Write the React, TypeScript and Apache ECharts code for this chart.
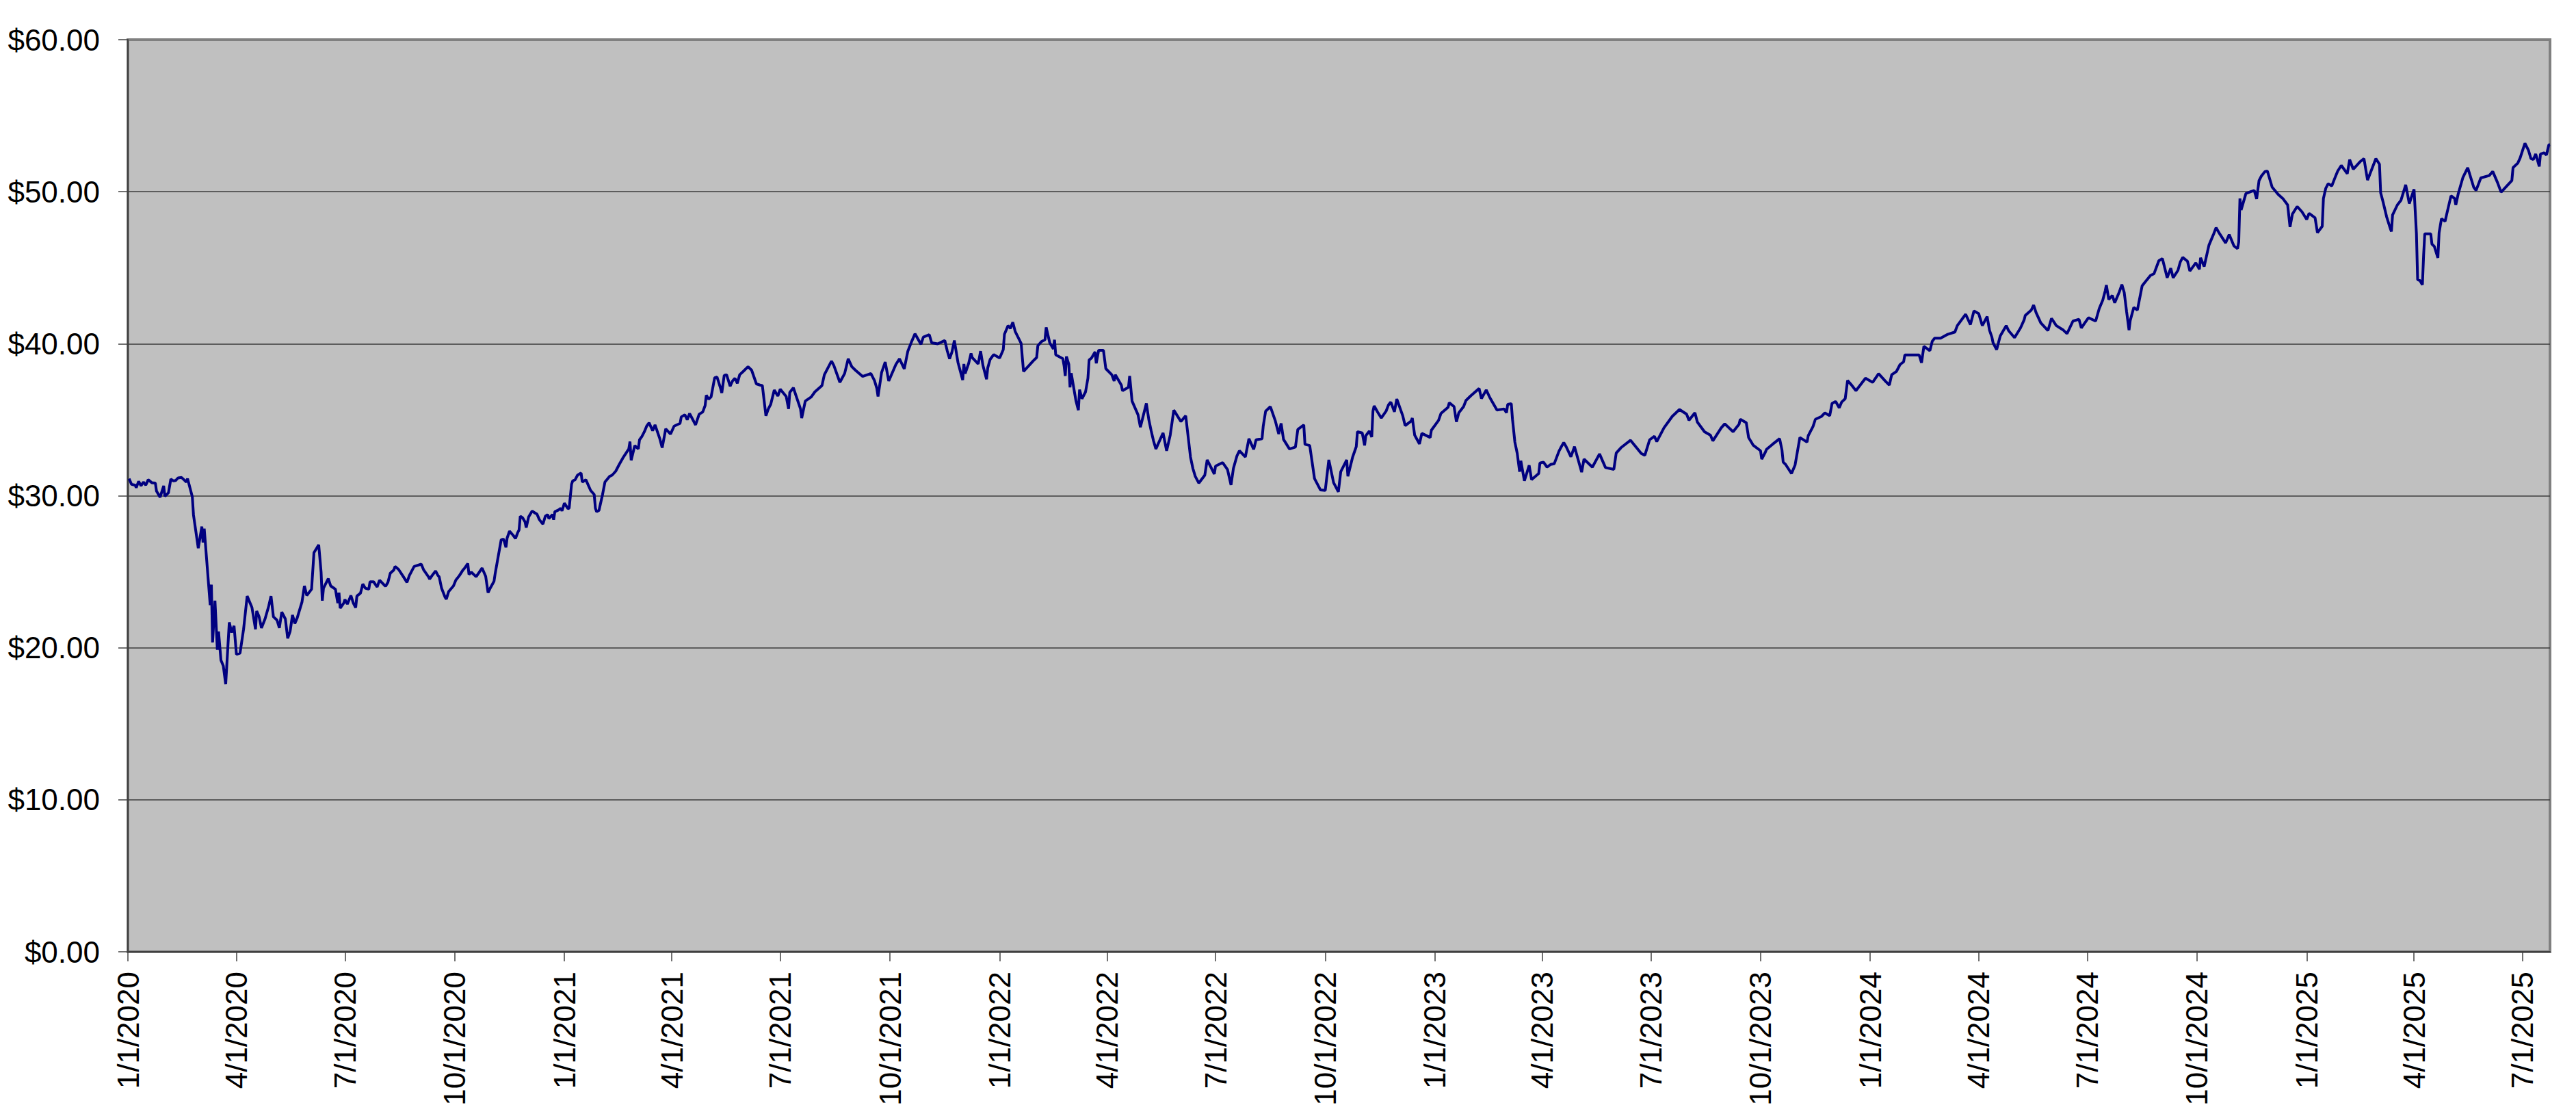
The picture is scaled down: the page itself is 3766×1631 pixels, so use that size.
import React, { useEffect, useRef } from "react";
import * as echarts from "echarts";

// X-axis tick labels (quarter starts)
const quarterLabels = [
  "1/1/2020", "4/1/2020", "7/1/2020", "10/1/2020",
  "1/1/2021", "4/1/2021", "7/1/2021", "10/1/2021",
  "1/1/2022", "4/1/2022", "7/1/2022", "10/1/2022",
  "1/1/2023", "4/1/2023", "7/1/2023", "10/1/2023",
  "1/1/2024", "4/1/2024", "7/1/2024", "10/1/2024",
  "1/1/2025", "4/1/2025", "7/1/2025",
];
const axisStart = "1/1/2020";
const axisEnd = "7/24/2025";
const yMin = 0;
const yMax = 60;
const yStep = 10;

// Price series, split by year (MM-DD, closing price)
const days2020 = ["01-02","01-04","01-07","01-08","01-10","01-12","01-14","01-16","01-18","01-21","01-24","01-25","01-28","01-31","02-01","02-04","02-06","02-08","02-10","02-12","02-15","02-17","02-19","02-20","02-24","02-25","02-29","03-03","03-04","03-05","03-10","03-11","03-12","03-14","03-16","03-17","03-19","03-21","03-23","03-26","03-28","03-30","04-01","04-04","04-07","04-10","04-14","04-17","04-18","04-20","04-22","04-25","04-28","04-30","05-02","05-05","05-07","05-09","05-12","05-14","05-16","05-18","05-20","05-22","05-26","05-28","05-30","06-03","06-05","06-09","06-11","06-12","06-13","06-17","06-19","06-23","06-25","06-26","06-27","06-30","07-01","07-03","07-06","07-08","07-10","07-11","07-14","07-16","07-18","07-21","07-22","07-25","07-28","07-30","08-04","08-06","08-08","08-11","08-12","08-15","08-19","08-22","08-24","08-28","09-03","09-05","09-09","09-10","09-13","09-15","09-17","09-18","09-20","09-23","09-24","09-26","09-30","10-02","10-05","10-08","10-09","10-12","10-13","10-15","10-19","10-24","10-27","10-29","10-31","11-03","11-04","11-09","11-11","11-13","11-14","11-16","11-19","11-21","11-23","11-24","11-25","11-27","11-29","11-30","12-02","12-05","12-07","12-09","12-11","12-14","12-16","12-18","12-19","12-22","12-23","12-24","12-27","12-29","12-30"];
const prices2020 = [31.13,30.75,30.7,30.53,30.95,30.65,30.9,30.7,31.05,30.86,30.83,30.3,29.9,30.65,29.96,30.2,31.1,30.98,31.0,31.17,31.2,31.05,30.9,31.13,29.93,28.73,26.55,27.97,26.92,27.83,22.8,24.15,20.35,23.1,19.87,21.07,19.19,18.8,17.6,21.67,21.0,21.44,19.57,19.64,21.22,23.4,22.65,21.22,22.42,22.04,21.3,21.9,22.72,23.4,22.04,21.82,21.3,22.35,21.9,20.62,21.07,22.15,21.6,21.97,23.02,24.07,23.44,23.85,26.25,26.77,24.97,23.1,23.92,24.55,24.07,23.85,22.94,23.62,22.6,22.94,23.17,22.87,23.44,22.94,22.64,23.4,23.59,24.19,23.92,23.85,24.34,24.34,24.0,24.45,24.04,24.3,24.9,25.12,25.35,25.15,24.67,24.3,24.75,25.35,25.5,25.12,24.67,24.52,24.85,25.05,24.75,24.67,23.92,23.32,23.2,23.7,24.07,24.45,24.75,25.12,25.2,25.54,24.82,24.97,24.67,25.24,24.7,23.62,23.95,24.37,24.9,27.1,27.15,26.6,27.22,27.67,27.4,27.19,27.6,27.75,28.65,28.55,28.28,27.9,28.6,29.0,28.88,28.8,28.43,28.13,28.65,28.76,28.5,28.76,28.42,28.95,29.06,29.18,29.0];

const days2021 = ["01-01","01-04","01-05","01-07","01-08","01-10","01-12","01-15","01-16","01-19","01-23","01-26","01-27","01-28","01-30","02-02","02-04","02-08","02-10","02-13","02-16","02-19","02-24","02-25","02-26","03-01","03-04","03-05","03-07","03-09","03-11","03-13","03-16","03-18","03-22","03-24","03-27","03-31","04-03","04-08","04-09","04-12","04-14","04-16","04-21","04-24","04-27","04-29","04-30","05-02","05-04","05-07","05-09","05-12","05-13","05-15","05-17","05-20","05-22","05-24","05-26","05-28","05-31","06-04","06-07","06-11","06-14","06-16","06-19","06-21","06-23","06-26","06-29","07-01","07-06","07-08","07-09","07-12","07-18","07-19","07-22","07-27","07-30","08-05","08-07","08-13","08-15","08-20","08-24","08-27","08-30","09-02","09-08","09-15","09-18","09-20","09-21","09-24","09-27","09-30","10-06","10-09","10-13","10-16","10-19","10-22","10-27","10-29","11-03","11-05","11-10","11-16","11-18","11-20","11-22","11-24","11-27","12-01","12-02","12-03","12-06","12-08","12-09","12-14","12-16","12-18","12-21","12-22","12-24","12-27"];
const prices2021 = [29.51,29.15,29.18,30.75,30.98,31.05,31.35,31.5,30.9,31.05,30.35,30.08,29.18,28.95,29.03,30.08,30.9,31.28,31.35,31.61,32.06,32.48,33.08,33.56,32.33,33.3,33.08,33.68,33.9,34.2,34.58,34.8,34.28,34.66,33.75,33.16,34.4,34.06,34.58,34.76,35.18,35.33,35.0,35.41,34.66,35.36,35.51,35.93,36.61,36.35,36.5,37.76,37.81,37.06,36.76,37.91,37.96,37.21,37.55,37.73,37.4,37.96,38.18,38.49,38.26,37.36,37.28,37.25,35.26,35.71,36.01,36.95,36.56,37.01,36.53,35.71,36.8,37.1,35.71,35.11,36.23,36.5,36.83,37.25,37.96,38.86,38.56,37.46,38.04,39.01,38.49,38.26,37.85,38.04,37.58,37.06,36.53,38.11,38.79,37.55,38.64,39.01,38.34,39.51,40.11,40.66,39.96,40.44,40.59,40.06,39.99,40.21,39.54,39.01,39.46,40.21,38.78,37.61,38.67,38.03,38.71,39.36,39.09,38.67,39.51,38.56,37.66,38.41,38.97,39.28];

const days2022 = ["01-01","01-04","01-05","01-08","01-10","01-12","01-14","01-19","01-20","01-21","01-26","01-29","02-01","02-02","02-05","02-08","02-09","02-12","02-15","02-16","02-17","02-23","02-24","02-25","02-26","02-28","03-01","03-02","03-06","03-08","03-09","03-11","03-14","03-16","03-17","03-19","03-22","03-23","03-25","03-29","03-31","04-05","04-07","04-08","04-13","04-14","04-19","04-20","04-22","04-27","04-29","05-04","05-06","05-08","05-10","05-12","05-18","05-21","05-24","05-27","06-02","06-06","06-10","06-12","06-14","06-17","06-22","06-24","06-30","07-01","07-07","07-11","07-14","07-16","07-19","07-21","07-26","07-29","08-02","08-04","08-09","08-10","08-12","08-16","08-20","08-23","08-25","08-27","09-01","09-06","09-08","09-13","09-14","09-18","09-22","09-27","10-01","10-04","10-08","10-12","10-14","10-19","10-20","10-24","10-27","10-28","11-01","11-03","11-04","11-07","11-09","11-10","11-11","11-14","11-17","11-21","11-23","11-25","11-28","11-30","12-05","12-07","12-12","12-13","12-15","12-19","12-21","12-28","12-29"];
const prices2022 = [39.06,39.61,40.62,41.19,41.01,41.41,40.81,40.02,39.09,38.18,38.6,38.86,39.09,39.87,40.14,40.26,41.07,40.06,39.66,40.26,39.27,39.01,38.56,37.88,39.16,38.64,37.13,38.06,36.23,35.63,36.98,36.38,36.83,37.73,38.93,39.06,39.46,38.71,39.57,39.57,38.36,37.96,37.55,37.96,37.28,36.91,37.13,37.88,36.23,35.33,34.51,36.08,35.03,34.28,33.61,33.08,34.13,32.96,33.98,35.63,34.88,35.26,32.55,31.8,31.28,30.83,31.35,32.36,31.43,31.95,32.18,31.73,30.71,31.8,32.63,32.96,32.55,33.75,33.05,33.68,33.75,34.58,35.56,35.86,34.96,34.06,34.76,33.71,33.08,33.2,34.36,34.66,33.38,33.3,31.13,30.38,30.35,32.36,30.86,30.26,31.58,32.36,31.28,32.55,33.23,34.21,34.13,33.31,33.95,34.25,33.86,35.56,35.91,35.49,35.11,35.56,35.97,36.16,35.52,36.36,35.26,34.61,34.91,35.11,33.98,33.41,34.1,33.83,34.31];

const days2023 = ["01-04","01-06","01-12","01-13","01-17","01-19","01-21","01-25","01-27","01-31","02-07","02-09","02-13","02-16","02-22","02-28","03-02","03-03","03-06","03-07","03-09","03-11","03-13","03-14","03-17","03-21","03-23","03-29","03-30","04-02","04-05","04-08","04-11","04-15","04-17","04-19","04-21","04-25","04-28","05-04","05-06","05-13","05-19","05-24","05-31","06-02","06-06","06-14","06-23","06-26","06-30","07-04","07-06","07-12","07-19","07-25","07-31","08-02","08-07","08-09","08-15","08-20","08-22","08-29","09-01","09-08","09-13","09-14","09-19","09-21","09-25","10-01","10-02","10-05","10-06","10-11","10-17","10-19","10-20","10-22","10-27","10-30","11-03","11-09","11-10","11-14","11-16","11-21","11-24","11-28","11-30","12-03","12-06","12-08","12-11","12-13","12-16","12-20","12-28"];
const prices2023 = [34.96,35.41,35.82,36.12,35.86,34.86,35.46,35.86,36.27,36.57,37.06,36.39,36.96,36.46,35.64,35.71,35.46,36.01,36.06,35.04,33.53,32.78,31.58,32.3,30.98,32.0,31.06,31.46,32.15,32.21,31.88,32.06,32.1,32.93,33.23,33.5,33.23,32.56,33.23,31.55,32.41,31.88,32.75,31.85,31.73,32.81,33.16,33.65,32.78,32.66,33.68,33.91,33.56,34.46,35.22,35.67,35.37,34.96,35.46,34.85,34.21,33.98,33.61,34.46,34.73,34.21,34.7,35.03,34.81,33.83,33.31,32.96,32.41,32.86,33.05,33.38,33.75,33.0,32.21,32.06,31.46,32.03,33.83,33.53,33.95,34.55,35.03,35.21,35.45,35.26,36.08,36.2,35.78,36.16,36.38,37.58,37.31,36.91,37.73];

const days2024 = ["01-03","01-08","01-14","01-17","01-19","01-23","01-26","01-29","01-30","02-11","02-13","02-15","02-20","02-22","02-24","02-29","03-06","03-12","03-14","03-21","03-25","03-28","04-01","04-04","04-08","04-10","04-12","04-13","04-16","04-19","04-24","04-26","05-01","05-06","05-09","05-10","05-15","05-17","05-19","05-23","05-29","06-01","06-05","06-11","06-14","06-19","06-24","06-26","07-02","07-08","07-11","07-14","07-16","07-17","07-19","07-22","07-24","07-28","07-30","08-01","08-03","08-05","08-06","08-09","08-12","08-16","08-18","08-23","08-26","08-30","09-02","09-06","09-09","09-11","09-15","09-17","09-19","09-23","09-25","09-30","10-03","10-04","10-07","10-11","10-15","10-17","10-20","10-25","10-28","11-01","11-04","11-05","11-06","11-07","11-11","11-15","11-18","11-20","11-22","11-24","11-27","11-29","12-03","12-08","12-12","12-16","12-18","12-20","12-24","12-28"];
const prices2024 = [37.46,38.03,37.51,37.28,37.96,38.18,38.63,38.81,39.26,39.26,38.75,39.83,39.54,40.16,40.36,40.36,40.62,40.77,41.19,41.94,41.26,42.16,41.97,41.19,41.79,40.89,40.44,40.06,39.61,40.51,41.19,40.86,40.4,41.04,41.56,41.86,42.21,42.54,42.06,41.37,40.86,41.67,41.19,40.89,40.66,41.49,41.61,41.04,41.71,41.49,42.31,42.87,43.47,43.86,42.91,43.17,42.69,43.44,43.89,43.36,42.09,40.89,41.52,42.39,42.21,43.81,44.01,44.49,44.61,45.46,45.6,44.34,44.97,44.34,44.82,45.38,45.68,45.43,44.78,45.32,44.9,45.65,45.08,46.48,47.23,47.63,47.23,46.63,47.18,46.43,46.25,46.7,49.55,48.8,49.88,50.0,50.08,49.52,50.73,51.03,51.33,51.36,50.3,49.83,49.55,49.13,47.68,48.53,49.03,48.68];

const days2025 = ["01-01","01-03","01-08","01-10","01-14","01-15","01-17","01-19","01-22","01-25","01-27","01-30","02-04","02-06","02-09","02-15","02-18","02-21","02-28","03-03","03-04","03-06","03-09","03-12","03-13","03-14","03-18","03-21","03-25","03-28","04-01","04-03","04-04","04-06","04-08","04-09","04-10","04-15","04-16","04-18","04-21","04-22","04-24","04-27","04-29","05-02","05-05","05-06","05-08","05-12","05-16","05-21","05-23","05-27","06-03","06-06","06-10","06-13","06-22","06-23","06-27","06-29","07-01","07-03","07-06","07-08","07-10","07-12","07-15","07-16","07-19","07-21","07-23","07-24"];
const prices2025 = [48.17,48.58,48.28,47.3,47.72,49.55,50.23,50.53,50.38,50.98,51.36,51.73,51.18,52.11,51.48,51.99,52.18,50.76,52.18,51.81,49.93,49.33,48.35,47.6,47.38,48.47,49.13,49.43,50.45,49.22,50.16,47.23,44.22,44.15,43.88,45.8,47.23,47.23,46.55,46.4,45.65,47.3,48.23,48.05,48.73,49.73,49.55,49.13,49.85,50.94,51.58,50.3,50.08,50.91,51.06,51.33,50.6,49.97,50.73,51.58,51.88,52.23,52.71,53.19,52.71,52.18,52.11,52.48,51.66,52.48,52.56,52.41,53.08,53.1];

const yearBlocks: [number, string[], number[]][] = [
  [2020, days2020, prices2020],
  [2021, days2021, prices2021],
  [2022, days2022, prices2022],
  [2023, days2023, prices2023],
  [2024, days2024, prices2024],
  [2025, days2025, prices2025],
];

function ts(y: number, m: number, d: number): number {
  return Date.UTC(y, m - 1, d);
}
function parseUS(s: string): number {
  const [m, d, y] = s.split("/").map(Number);
  return ts(y, m, d);
}
function fmtUS(v: number): string {
  const d = new Date(v);
  return `${d.getUTCMonth() + 1}/${d.getUTCDate()}/${d.getUTCFullYear()}`;
}

function buildData(): [number, number][] {
  const out: [number, number][] = [];
  for (const [y, ds, ps] of yearBlocks) {
    ds.forEach((md, i) => {
      const [m, d] = md.split("-").map(Number);
      out.push([ts(y, m, d), ps[i]]);
    });
  }
  return out;
}

const FONT = "'Liberation Sans', Arial, sans-serif";

export default function App() {
  const ref = useRef<HTMLDivElement>(null);
  useEffect(() => {
    if (!ref.current) return;
    const chart = echarts.init(ref.current, undefined, { renderer: "svg" });
    const tickValues = quarterLabels.map(parseUS);
    chart.setOption({
      animation: false,
      backgroundColor: "#ffffff",
      grid: {
        left: 187,
        right: 38,
        top: 58,
        bottom: 240,
        containLabel: false,
        outerBoundsMode: "none",
        show: true,
        backgroundColor: "#c0c0c0",
        borderColor: "#808080",
        borderWidth: 4,
      },
      xAxis: {
        type: "value",
        min: parseUS(axisStart),
        max: parseUS(axisEnd),
        scale: true,
        axisLine: { show: true, lineStyle: { color: "#404040", width: 2 } },
        axisTick: {
          show: true,
          inside: false,
          length: 14,
          customValues: tickValues,
          lineStyle: { color: "#404040", width: 1.5 },
        },
        axisLabel: {
          show: true,
          customValues: tickValues,
          rotate: 90,
          margin: 29,
          fontSize: 44,
          fontFamily: FONT,
          color: "#000000",
          hideOverlap: false,
          formatter: (v: number) => fmtUS(v),
        },
        splitLine: { show: false },
      },
      yAxis: {
        type: "value",
        min: yMin,
        max: yMax,
        interval: yStep,
        axisLine: { show: true, lineStyle: { color: "#404040", width: 2 } },
        axisTick: { show: true, inside: false, length: 14, lineStyle: { color: "#404040", width: 1.5 } },
        axisLabel: {
          margin: 41,
          fontSize: 44,
          fontFamily: FONT,
          color: "#000000",
          formatter: (v: number) => "$" + v.toFixed(2),
        },
        splitLine: {
          show: true,
          showMinLine: false,
          showMaxLine: false,
          lineStyle: { color: "#3c3c3c", width: 1.5 },
        },
      },
      series: [
        {
          type: "line",
          data: buildData(),
          showSymbol: false,
          symbol: "none",
          lineStyle: { color: "#000080", width: 4 },
          itemStyle: { color: "#000080" },
          silent: true,
        },
      ],
    });
    return () => chart.dispose();
  }, []);
  return (
    <div
      ref={ref}
      style={{ position: "absolute", left: 0, top: 0, width: 3766, height: 1631 }}
    />
  );
}
